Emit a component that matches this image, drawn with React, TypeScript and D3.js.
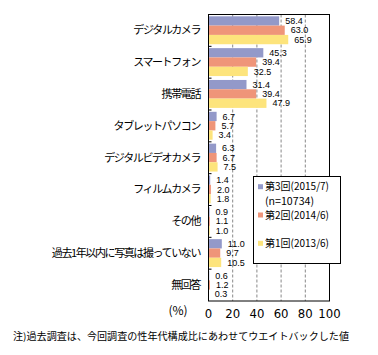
import React from "react";
import * as d3 from "d3";

const categories = [
  "デジタルカメラ",
  "スマートフォン",
  "携帯電話",
  "タブレットパソコン",
  "デジタルビデオカメラ",
  "フィルムカメラ",
  "その他",
  "過去1年以内に写真は撮っていない",
  "無回答",
];
const seriesNames = ["第3回(2015/7)", "第2回(2014/6)", "第1回(2013/6)"];
const wave3 = [58.4, 45.3, 31.4, 6.7, 6.3, 1.4, 0.9, 11.0, 0.6];
const wave2 = [63.0, 39.4, 39.4, 5.7, 6.7, 2.0, 1.1, 9.7, 1.2];
const wave1 = [65.9, 32.5, 47.9, 3.4, 7.5, 1.8, 1.0, 10.5, 0.3];
const xTicks = [0, 20, 40, 60, 80, 100];
const colors = ["#9399c9", "#ef9579", "#fde47c"];

const jp = "'Noto Sans CJK JP', sans-serif";
const num = "'Liberation Sans', Arial, sans-serif";

export default function App() {
  const W = 378,
    H = 355;
  const x = d3.scaleLinear().domain([0, 100]).range([208.5, 329.5]);
  const y = d3.scaleBand<string>().domain(categories).range([14.5, 301]);
  const bw = y.bandwidth();
  const inner = d3
    .scaleBand<number>()
    .domain([0, 1, 2])
    .range([1.8, bw - 2.1]);
  const series = [wave3, wave2, wave1];

  return (
    <svg
      width={W}
      height={H}
      style={{ position: "absolute", left: 0, top: 0, background: "#fff" }}
    >
      {/* gridlines */}
      {xTicks
        .filter((t) => t > 0 && t < 100)
        .map((t) => (
          <line
            key={t}
            x1={x(t)}
            x2={x(t)}
            y1={y.range()[0]}
            y2={y.range()[1]}
            stroke="#888"
            strokeDasharray="3,2"
            strokeWidth={1}
          />
        ))}
      {/* bars */}
      {categories.map((c, i) => (
        <g key={c} transform={`translate(0,${y(c)})`}>
          {series.map((s, j) => (
            <g key={j}>
              <rect
                x={x(0)}
                y={inner(j)}
                width={x(s[i]) - x(0)}
                height={inner.bandwidth()}
                fill={colors[j]}
              />
              <text
                x={x(s[i]) + 6}
                y={(inner(j) as number) + inner.bandwidth() / 2}
                dy="0.35em"
                fontSize={9}
                fontFamily={num}
                fill="#000"
              >
                {s[i].toFixed(1)}
              </text>
            </g>
          ))}
          <text
            x={200}
            y={bw / 2}
            dy="0.35em"
            textAnchor="end"
            fontSize={11}
            letterSpacing={-1.4}
            fontFamily={jp}
            fill="#000"
          >
            {c}
          </text>
        </g>
      ))}
      {/* y ticks at band boundaries */}
      {categories.slice(1).map((c) => (
        <line
          key={c}
          x1={x(0)}
          x2={x(0) + 3}
          y1={y(c)}
          y2={y(c)}
          stroke="#000"
        />
      ))}
      {/* plot frame */}
      <rect
        x={x(0)}
        y={y.range()[0]}
        width={x(100) - x(0)}
        height={y.range()[1] - y.range()[0]}
        fill="none"
        stroke="#000"
        strokeWidth={1}
      />
      {/* x tick labels */}
      {xTicks.map((t) => (
        <text
          key={t}
          x={x(t)}
          y={313}
          dy="0.35em"
          textAnchor="middle"
          fontSize={13}
          fontFamily="'DejaVu Sans Condensed', 'Liberation Sans Narrow', sans-serif"
          fill="#000"
        >
          {t}
        </text>
      ))}
      <text
        x={178}
        y={311}
        dy="0.35em"
        textAnchor="middle"
        fontSize={12}
        fontFamily={jp}
        fill="#000"
      >
        (%)
      </text>
      {/* legend */}
      <g>
        <rect
          x={253.5}
          y={176.5}
          width={87}
          height={87}
          fill="#fff"
          stroke="#000"
          strokeWidth={1}
        />
        {[186.7, 215, 243.3].map((ly, j) => (
          <g key={j}>
            <rect x={258} y={ly - 2.5} width={5} height={5} fill={colors[j]} />
            <text
              x={265}
              y={ly}
              dy="0.35em"
              fontSize={10.5}
              textLength={64}
              lengthAdjust="spacingAndGlyphs"
              fontFamily={jp}
              fill="#000"
            >
              {seriesNames[j]}
            </text>
          </g>
        ))}
        <text
          x={265}
          y={201.7}
          dy="0.35em"
          fontSize={10.5}
          textLength={49}
          lengthAdjust="spacingAndGlyphs"
          fontFamily={jp}
          fill="#000"
        >
          (n=10734)
        </text>
      </g>
      {/* note */}
      <text
        x={13}
        y={336}
        dy="0.35em"
        fontSize={10}
        fontFamily={jp}
        textLength={336}
        lengthAdjust="spacingAndGlyphs"
        fill="#000"
      >
        注)過去調査は、今回調査の性年代構成比にあわせてウエイトバックした値
      </text>
    </svg>
  );
}
